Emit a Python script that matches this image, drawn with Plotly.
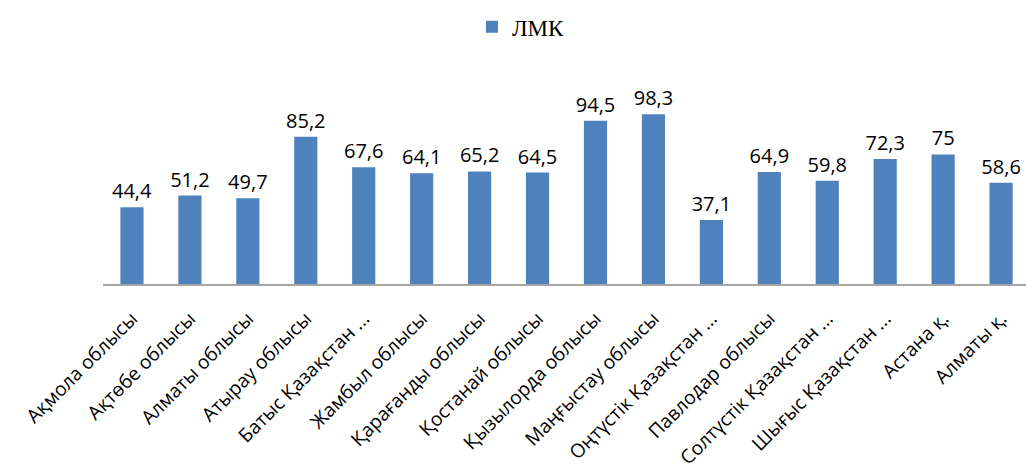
import plotly.graph_objects as go

categories = [
    "Ақмола облысы", "Ақтөбе облысы", "Алматы облысы", "Атырау облысы",
    "Батыс Қазақстан ...", "Жамбыл облысы", "Қарағанды облысы", "Қостанай облысы",
    "Қызылорда облысы", "Маңғыстау облысы", "Оңтүстік Қазақстан ...", "Павлодар облысы",
    "Солтүстік Қазақстан ...", "Шығыс Қазақстан ...", "Астана қ.", "Алматы қ.",
]
values = [44.4, 51.2, 49.7, 85.2, 67.6, 64.1, 65.2, 64.5, 94.5, 98.3, 37.1, 64.9, 59.8, 72.3, 75, 58.6]
series_name = "ЛМК"

labels = [str(v).replace(".", ",") for v in values]

fig = go.Figure(go.Bar(
    x=categories, y=values, name=series_name,
    marker=dict(color="#4F81BD", line=dict(width=0)),
    width=0.4,
    text=labels, textposition="outside", cliponaxis=False, constraintext="none",
    textfont=dict(family="Open Sans", size=20, color="#000000"),
    showlegend=True,
))

fig.update_layout(
    width=1026, height=472,
    margin=dict(l=103, r=0, t=70, b=188, autoexpand=False),
    plot_bgcolor="white", paper_bgcolor="white",
    showlegend=True,
    legend=dict(orientation="h", xref="container", yref="container",
                x=0.46, y=0.989, xanchor="left", yanchor="top",
                font=dict(family="Liberation Serif", size=23, color="#000000")),
    xaxis=dict(type="category", range=[-0.5, 15.43], showline=True, automargin=False,
               linecolor="#A6A6A6", linewidth=1.5, tickangle=-45,
               ticks="", ticklabelstandoff=14,
               tickfont=dict(family="Open Sans", size=19.2, color="#000000")),
    yaxis=dict(range=[0, 123.9], visible=False, showgrid=False, zeroline=False),
)

fig.write_html("out.html", config={"displayModeBar": False},
               post_script="document.body.style.margin='0';document.body.style.overflow='hidden';")
